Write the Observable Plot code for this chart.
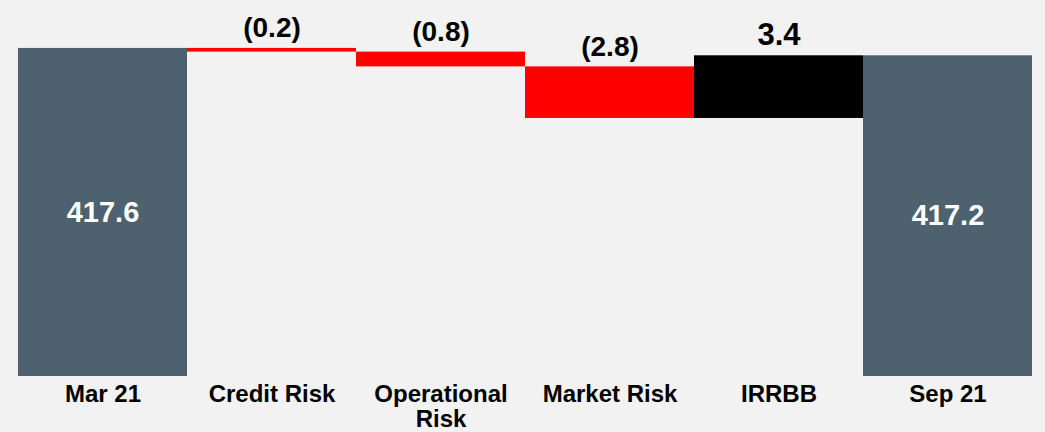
<!DOCTYPE html>
<html>
<head>
<meta charset="utf-8">
<script src="https://cdn.jsdelivr.net/npm/d3@7"></script>
<script src="https://cdn.jsdelivr.net/npm/@observablehq/plot@0.6"></script>
<style>
  html, body { margin: 0; padding: 0; background: #f2f2f2; }
  #chart svg { display: block; background: #f2f2f2; font-family: "Liberation Sans", Arial, sans-serif; }
</style>
</head>
<body>
<div id="chart"></div>
<script>
const categories = ["Mar 21", "Credit Risk", "Operational\nRisk", "Market Risk", "IRRBB", "Sep 21"];
const values = [417.6, -0.2, -0.8, -2.8, 3.4, 417.2];
const kinds = ["total", "delta", "delta", "delta", "delta", "total"];
const valueLabels = ["417.6", "(0.2)", "(0.8)", "(2.8)", "3.4", "417.2"];
const yDomain = [399.8, 420.2];

const colors = {total: "#4d626e", down: "#ff0000", up: "#000000"};

let running = 0;
const rows = categories.map((cat, i) => {
  const v = values[i];
  let lo, hi, color;
  if (kinds[i] === "total") {
    lo = yDomain[0]; hi = v; running = v; color = colors.total;
  } else {
    const start = running, end = running + v;
    lo = Math.min(start, end); hi = Math.max(start, end);
    running = end; color = v < 0 ? colors.down : colors.up;
  }
  return {cat, value: v, kind: kinds[i], label: valueLabels[i], lo, hi, color};
});

const totals = rows.filter(d => d.kind === "total");
const deltas = rows.filter(d => d.kind === "delta");

const chart = Plot.plot({
  width: 1045,
  height: 432,
  marginLeft: 16,
  marginRight: 12,
  marginTop: 0,
  marginBottom: 56,
  style: {background: "#f2f2f2", fontFamily: "'Liberation Sans', Arial, sans-serif"},
  x: {domain: categories, padding: 0, axis: null},
  y: {domain: yDomain, axis: null},
  color: {type: "identity"},
  marks: [
    Plot.barY(rows, {x: "cat", y1: "lo", y2: "hi", fill: "color", inset: 0}),
    Plot.text(totals, {
      x: "cat", y: d => (d.lo + d.hi) / 2, text: "label",
      fill: "white", fontSize: 29, fontWeight: "bold", lineAnchor: "middle"
    }),
    Plot.text(deltas, {
      x: "cat", y: "hi", text: "label",
      fill: "black", fontSize: d => d.value > 0 ? 31 : 28, fontWeight: "bold",
      lineAnchor: "bottom", dy: -11
    }),
    Plot.text(rows, {
      x: "cat", frameAnchor: "bottom", text: "cat",
      fill: "black", fontSize: 24, fontWeight: "bold",
      lineAnchor: "top", lineHeight: 1.04, dy: 8
    })
  ]
});

document.getElementById("chart").appendChild(chart);
</script>
</body>
</html>
